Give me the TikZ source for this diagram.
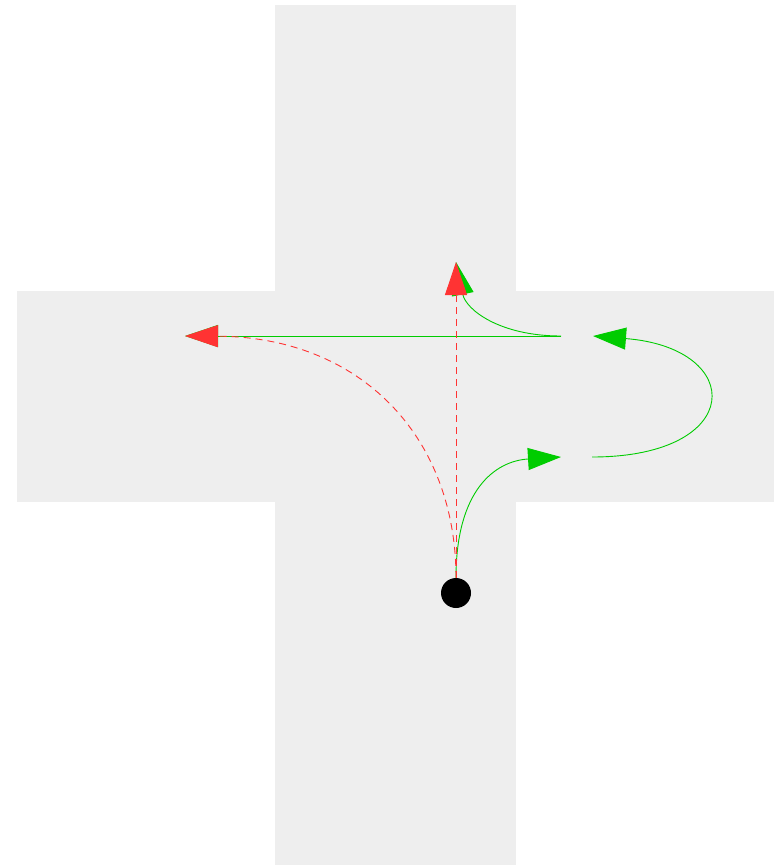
\documentclass[tikz,border=0pt]{standalone}
\usetikzlibrary{arrows.meta}
\definecolor{crossgray}{RGB}{238,238,238}
\definecolor{mvgreen}{RGB}{0,204,0}
\definecolor{mvred}{RGB}{255,51,51}
\tikzset{
  area/.style={fill=crossgray, draw=none},
  greenmove/.style={draw=mvgreen, line width=0.9pt, -{Triangle[length=33pt,width=22pt]}, mvgreen},
  redmove/.style={draw=mvred, line width=0.9pt, dash pattern=on 7pt off 5pt, -{Triangle[length=33pt,width=22pt]}, mvred},
  piece/.style={circle, fill=black, draw=none, minimum size=30pt, inner sep=0pt}
}
\begin{document}
\begin{tikzpicture}[x=1pt,y=-1pt]
\useasboundingbox (0,0) rectangle (780,865);
\fill[white] (0,0) rectangle (780,865);
% cross-shaped board
\path[area] (275,5) rectangle (516,865);
\path[area] (17,291) rectangle (774,502);
% piece
\node[piece] (dot) at (456,593) {};
% named points
\coordinate (g1end) at (561,457);
\coordinate (g2start) at (592,457);
\coordinate (g2end) at (593,336);
\coordinate (g3start) at (561,336);
\coordinate (leftend) at (185,336);
\coordinate (topend) at (456,262);
% green moves
\draw[greenmove] (dot.north) .. controls (456,490) and (495,461) .. (g1end);
\draw[greenmove] (g2start) .. controls (746,457) and (746,348) .. (g2end);
\draw[greenmove] (g3start) -- (leftend);
\draw[greenmove] (g3start) .. controls (500,336) and (466,310) .. (topend);
% red moves
\draw[redmove] (dot.north) -- (topend);
\draw[redmove] (dot.north) .. controls (456,436) and (360,337) .. (leftend);
\end{tikzpicture}
\end{document}
